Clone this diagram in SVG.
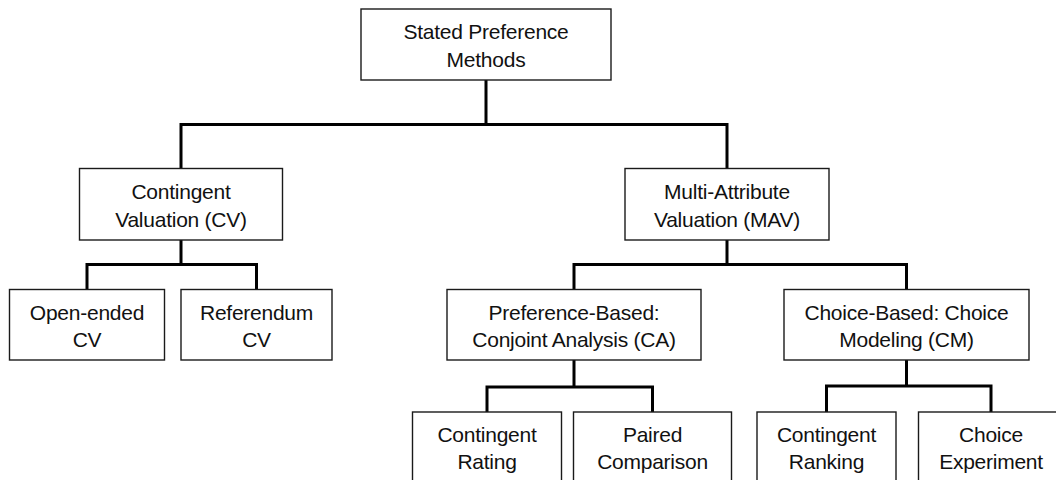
<svg xmlns="http://www.w3.org/2000/svg" width="1056" height="480" viewBox="0 0 1056 480">
  <style>
    .box { fill: #ffffff; stroke: #1a1a1a; stroke-width: 1.4; }
    .lbl { font-family: "Liberation Sans", Arial, Helvetica, sans-serif; font-size: 21px; letter-spacing: -0.25px; fill: #111111; text-anchor: middle; }
    .wire { fill: none; stroke: #000000; stroke-width: 3; stroke-linejoin: miter; stroke-linecap: butt; }
  </style>
  <rect width="1056" height="480" fill="#ffffff"/>

  <!-- tree connectors -->
  <g id="connectors">
    <path class="wire" d="M486 80 V124.5 M181 168.5 V124.5 H727 V168.5"/>
    <path class="wire" d="M181 240 V264.5 M87 289.5 V264.5 H256.5 V289.5"/>
    <path class="wire" d="M727 240 V264.5 M574 289.5 V264.5 H906.5 V289.5"/>
    <path class="wire" d="M574 360 V387 M487 412 V387 H652.5 V412"/>
    <path class="wire" d="M906.5 360 V386 M826.5 412 V386 H991 V412"/>
  </g>

  <g id="stated-preference">
    <rect class="box" x="361" y="9" width="250" height="71"/>
    <text class="lbl" x="486" y="39.3">Stated Preference</text>
    <text class="lbl" x="486" y="66.7">Methods</text>
  </g>

  <g id="contingent-valuation">
    <rect class="box" x="79.5" y="168.5" width="203" height="71.5"/>
    <text class="lbl" x="181" y="198.5">Contingent</text>
    <text class="lbl" x="181" y="226.5">Valuation (CV)</text>
  </g>

  <g id="multi-attribute-valuation">
    <rect class="box" x="625" y="168.5" width="204" height="71.5"/>
    <text class="lbl" x="727" y="198.5">Multi-Attribute</text>
    <text class="lbl" x="727" y="226.5">Valuation (MAV)</text>
  </g>

  <g id="open-ended-cv">
    <rect class="box" x="9.5" y="289.5" width="155" height="70.5"/>
    <text class="lbl" x="87" y="319.5">Open-ended</text>
    <text class="lbl" x="87" y="347">CV</text>
  </g>

  <g id="referendum-cv">
    <rect class="box" x="181" y="289.5" width="151" height="70.5"/>
    <text class="lbl" x="256.5" y="319.5">Referendum</text>
    <text class="lbl" x="256.5" y="347">CV</text>
  </g>

  <g id="conjoint-analysis">
    <rect class="box" x="447" y="289.5" width="254" height="70.5"/>
    <text class="lbl" x="574" y="319.5">Preference-Based:</text>
    <text class="lbl" x="574" y="347">Conjoint Analysis (CA)</text>
  </g>

  <g id="choice-modeling">
    <rect class="box" x="784" y="289.5" width="245" height="70.5"/>
    <text class="lbl" x="906.5" y="319.5">Choice-Based: Choice</text>
    <text class="lbl" x="906.5" y="347">Modeling (CM)</text>
  </g>

  <g id="contingent-rating">
    <rect class="box" x="412.5" y="412" width="149" height="72"/>
    <text class="lbl" x="487" y="442">Contingent</text>
    <text class="lbl" x="487" y="469">Rating</text>
  </g>

  <g id="paired-comparison">
    <rect class="box" x="573.5" y="412" width="158" height="72"/>
    <text class="lbl" x="652.5" y="442">Paired</text>
    <text class="lbl" x="652.5" y="469">Comparison</text>
  </g>

  <g id="contingent-ranking">
    <rect class="box" x="757" y="412" width="139" height="72"/>
    <text class="lbl" x="826.5" y="442">Contingent</text>
    <text class="lbl" x="826.5" y="469">Ranking</text>
  </g>

  <g id="choice-experiment">
    <rect class="box" x="918.5" y="412" width="145" height="72"/>
    <text class="lbl" x="991" y="442">Choice</text>
    <text class="lbl" x="991" y="469">Experiment</text>
  </g>
</svg>
